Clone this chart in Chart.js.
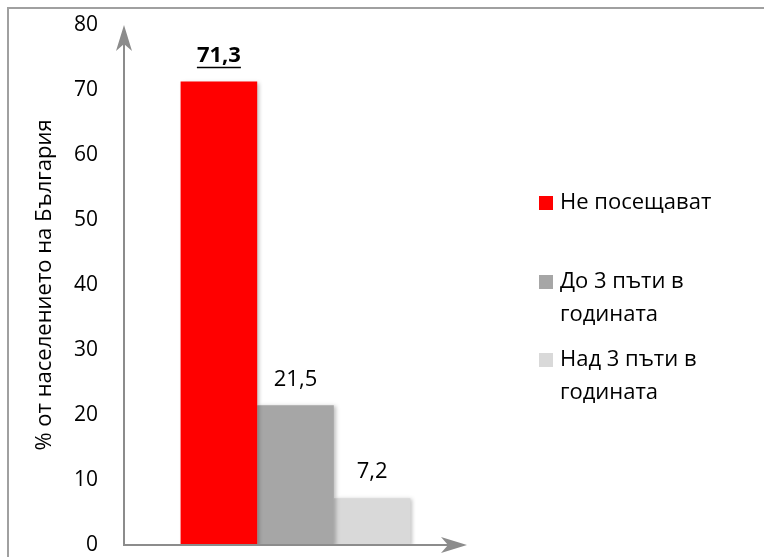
<!DOCTYPE html>
<html>
<head>
<meta charset="utf-8">
<script src="https://cdn.jsdelivr.net/npm/chart.js@4/dist/chart.umd.min.js"></script>
<style>
  html, body { margin: 0; padding: 0; background: #fff; }
  #wrap { width: 764px; height: 557px; position: relative; }
</style>
</head>
<body>
<div id="wrap"><canvas id="c" width="764" height="557"></canvas></div>
<script>
// Посещения на културни събития – дял от населението
const categories = [''];
const seriesLabels = ['Не посещават', 'До 3 пъти в годината', 'Над 3 пъти в годината'];
const legendLines = [['Не посещават'], ['До 3 пъти в', 'годината'], ['Над 3 пъти в', 'годината']];
const seriesValues = [71.3, 21.5, 7.2];
const seriesColors = ['#ff0000', '#a6a6a6', '#d9d9d9'];
const yTicks = [0, 10, 20, 30, 40, 50, 60, 70, 80];
const yTitle = '% от населението на България';

const FONT = '"Open Sans", "Noto Sans", sans-serif';
const fmt = v => v.toFixed(1).replace('.', ',');

const datasets = seriesValues.map((v, i) => ({
  label: seriesLabels[i],
  data: [v],
  backgroundColor: seriesColors[i],
  borderWidth: 0,
  categoryPercentage: 0.67,
  barPercentage: 1.0
}));

// Frame, axes with arrows, axis title, value labels and legend
const decor = {
  id: 'decor',
  beforeDatasetsDraw(chart) {
    const ctx = chart.ctx;
    ctx.save();
    ctx.shadowColor = 'rgba(0,0,0,0.25)';
    ctx.shadowBlur = 4;
    ctx.shadowOffsetX = 2;
    ctx.shadowOffsetY = 1;
  },
  afterDatasetsDraw(chart) {
    chart.ctx.restore();
  },
  afterDraw(chart) {
    const ctx = chart.ctx;
    const a = chart.chartArea;
    const y = chart.scales.y;
    ctx.save();
    // outer frame
    ctx.strokeStyle = '#a0a0a0';
    ctx.lineWidth = 2;
    ctx.strokeRect(8, 8, 800, 600);

    // axes
    const gray = '#8c8c8c';
    ctx.strokeStyle = gray;
    ctx.fillStyle = gray;
    ctx.lineWidth = 2;
    const x0 = a.left, y0 = y.getPixelForValue(0);
    const yTop = y.getPixelForValue(80);
    const xEnd = a.right;
    ctx.beginPath();
    ctx.moveTo(x0, yTop + 10);
    ctx.lineTo(x0, y0);
    ctx.lineTo(xEnd - 10, y0);
    ctx.stroke();
    // up arrow
    ctx.beginPath();
    ctx.moveTo(x0, yTop);
    ctx.lineTo(x0 - 8, yTop + 26);
    ctx.lineTo(x0, yTop + 19);
    ctx.lineTo(x0 + 8, yTop + 26);
    ctx.closePath();
    ctx.fill();
    // right arrow
    ctx.beginPath();
    ctx.moveTo(xEnd, y0);
    ctx.lineTo(xEnd - 26, y0 - 8);
    ctx.lineTo(xEnd - 19, y0);
    ctx.lineTo(xEnd - 26, y0 + 8);
    ctx.closePath();
    ctx.fill();

    // axis title
    ctx.fillStyle = '#000';
    ctx.font = '22px ' + FONT;
    ctx.textAlign = 'center';
    ctx.textBaseline = 'middle';
    ctx.save();
    ctx.translate(45, (a.top + a.bottom) / 2);
    ctx.rotate(-Math.PI / 2);
    ctx.fillText(yTitle, 0, 0);
    ctx.restore();

    // value labels
    chart.data.datasets.forEach((ds, i) => {
      const bar = chart.getDatasetMeta(i).data[0];
      const txt = fmt(ds.data[0]);
      const ly = bar.y - 26;
      if (i === 0) {
        ctx.font = 'bold 22px ' + FONT;
        ctx.fillText(txt, bar.x, ly);
        const w = ctx.measureText(txt).width;
        ctx.strokeStyle = '#000';
        ctx.lineWidth = 1.5;
        ctx.beginPath();
        ctx.moveTo(bar.x - w / 2, ly + 12);
        ctx.lineTo(bar.x + w / 2, ly + 12);
        ctx.stroke();
      } else {
        ctx.font = '22px ' + FONT;
        ctx.fillText(txt, bar.x, ly);
      }
    });

    // legend
    const legendY = [203, 282, 360];
    ctx.font = '22px ' + FONT;
    ctx.textAlign = 'left';
    legendLines.forEach((lines, i) => {
      ctx.fillStyle = chart.data.datasets[i].backgroundColor;
      ctx.fillRect(539, legendY[i] - 7, 14, 14);
      ctx.fillStyle = '#000';
      lines.forEach((t, k) => ctx.fillText(t, 560, legendY[i] + k * 33));
    });
    ctx.restore();
  }
};

new Chart(document.getElementById('c'), {
  type: 'bar',
  data: { labels: categories, datasets },
  options: {
    responsive: false,
    animation: false,
    layout: { padding: { left: 32, right: 297, top: 25, bottom: 12 } },
    plugins: { legend: { display: false }, tooltip: { enabled: false } },
    scales: {
      x: { display: false },
      y: {
        min: 0, max: 80,
        afterBuildTicks: s => { s.ticks = yTicks.map(v => ({ value: v })); },
        afterFit: s => { s.width = 124 - 32; s.paddingTop = 0; s.paddingBottom = 0; },
        grid: { display: false },
        border: { display: false },
        ticks: { color: '#000', padding: 18, font: { family: FONT, size: 21 } },
        title: { display: false }
      }
    }
  },
  plugins: [decor]
});
</script>
</body>
</html>
